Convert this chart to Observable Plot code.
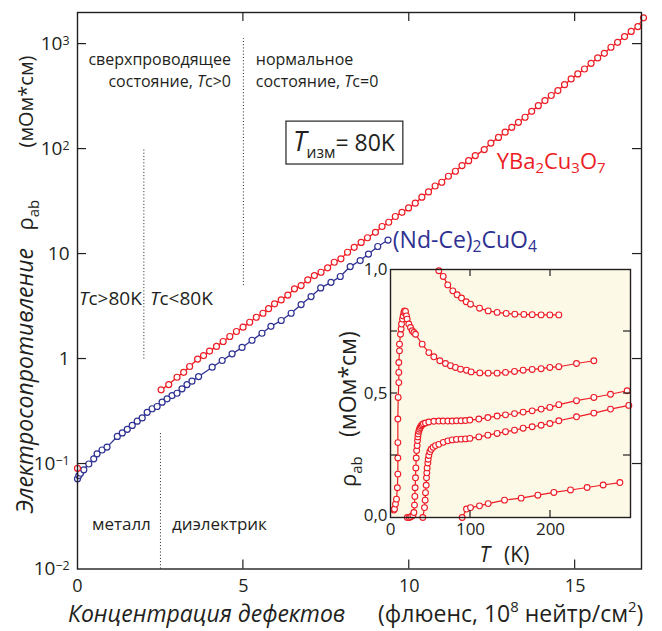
<!DOCTYPE html>
<html><head><meta charset="utf-8">
<script src="https://cdn.jsdelivr.net/npm/d3@7"></script>
<script src="https://cdn.jsdelivr.net/npm/@observablehq/plot@0.6"></script>
<style>
body{margin:0;background:#fff;}
#wrap{position:relative;width:662px;height:631px;font-family:"Open Sans",sans-serif;}
#wrap svg{position:absolute;overflow:visible;}
</style></head><body><div id="wrap"></div>
<script>
// ---------- main chart data: fluence (1e8 n/cm2) vs resistivity (mOhm*cm) ----------
const ybcoX = [2.52,2.75,3.00,3.20,3.38,3.62,3.80,3.98,4.19,4.39,4.59,4.79,4.99,5.19,5.39,5.59,5.76,5.94,6.14,6.34,6.54,6.74,6.94,7.14,7.34,7.54,7.74,7.94,8.14,8.34,8.55,8.74,8.98,9.18,9.38,9.58,9.78,9.98,10.18,10.38,10.58,10.78,10.98,11.18,11.39,11.59,11.79,11.99,12.26,12.46,12.69,12.89,13.09,13.29,13.49,13.69,13.89,14.09,14.28,14.48,14.68,14.88,15.08,15.28,15.48,15.68,15.88,16.08,16.28,16.49,16.69,16.89,17.06];
const ybcoY = [0.509,0.571,0.671,0.748,0.849,1.00,1.08,1.19,1.32,1.47,1.64,1.83,2.01,2.24,2.50,2.73,3.02,3.36,3.66,4.07,4.66,5.01,5.68,6.24,6.71,7.40,8.36,9.00,10.4,11.6,12.9,14.3,16.1,18.3,20.1,22.8,25.0,27.5,30.5,34.8,39.1,44.5,48.3,55.1,61.5,69.7,77.6,86.7,98.9,114,129,145,161,180,201,229,259,290,324,361,411,466,520,579,656,738,817,933,1040,1180,1320,1470,1780];
const ybcoStartX = [0];
const ybcoStartY = [0.091];
const nccoX = [0.00,0.04,0.09,0.19,0.34,0.49,0.59,0.74,0.89,1.20,1.35,1.50,1.65,1.80,1.95,2.10,2.25,2.40,2.55,2.70,2.85,3.00,3.15,3.30,3.45,3.65,4.06,4.36,4.66,4.96,5.26,5.56,5.83,6.14,6.44,6.74,7.04,7.33,7.64,7.92,8.22,8.52,8.77,9.05,9.36];
const nccoY = [0.0723,0.0776,0.0817,0.0881,0.100,0.112,0.125,0.136,0.145,0.183,0.198,0.214,0.233,0.256,0.275,0.311,0.336,0.353,0.388,0.418,0.449,0.472,0.520,0.571,0.615,0.681,0.836,0.968,1.12,1.29,1.51,1.76,2.05,2.33,2.73,3.30,3.94,4.76,5.38,6.11,7.60,8.67,10.0,11.8,13.6];
const xTicks = [5,10,15];
const xTickLabels = [0,5,10,15];
const yTicks = [0.01,0.1,1,10,100,1000];
const yTickLabels = ["10^-2","10^-1","1","10","10^2","10^3"];
// dotted boundaries (x, from y1 to y2)
const dividerX = [2, 5, 2.5];
const dividerY1 = [1, 5, 0.01];
const dividerY2 = [100, 1130, 0.2];

// ---------- inset data: T (K) vs rho_ab (mOhm*cm) ----------
const insetA = [[60.4,0.995],[65.9,0.972],[71.6,0.938],[77.9,0.914],[83.3,0.898],[88.75,0.885],[94.6,0.870],[100,0.860],[111.3,0.844],[122.1,0.833],[133.3,0.827],[144.6,0.823],[155.4,0.820],[166.7,0.819],[177.1,0.818],[188.3,0.817],[199.2,0.817],[210.4,0.817]];
const insetB = [[4.2,0.03],[5,0.034],[6.25,0.054],[7.5,0.074],[8.6,0.12],[9.2,0.175],[9.2,0.24],[9.2,0.302],[9.2,0.397],[9.6,0.484],[10.4,0.544],[10.4,0.585],[10.4,0.625],[11.25,0.672],[11.25,0.699],[12.5,0.739],[13.3,0.760],[13.75,0.78],[15,0.80],[15.8,0.813],[16.7,0.827],[17.5,0.833],[18.75,0.831],[20,0.813],[20.8,0.80],[22.9,0.78],[25,0.766],[27.1,0.753],[29.2,0.746],[31.25,0.739],[39.6,0.699],[47.9,0.665],[54.2,0.648],[61.7,0.632],[68.75,0.621],[75,0.612],[81.25,0.605],[87.5,0.598],[95,0.594],[100.8,0.587],[111.7,0.583],[122.1,0.582],[133.3,0.582],[143.75,0.585],[155,0.589],[165.8,0.594],[177.1,0.597],[188.3,0.600],[199.2,0.605],[210.4,0.608],[232.5,0.621],[254.2,0.632]];
const insetC = [[21,0.0],[23.5,0.0],[25.5,0.003],[28,0.008],[29.2,0.02],[30,0.05],[30.4,0.085],[30.8,0.12],[31.25,0.16],[31.7,0.2],[32.1,0.24],[32.7,0.27],[33.3,0.29],[33.8,0.31],[34.2,0.325],[34.6,0.337],[35.4,0.348],[36.2,0.356],[37.1,0.363],[38.3,0.369],[39.6,0.374],[41.2,0.378],[43.75,0.381],[47.9,0.385],[54.2,0.388],[60.4,0.389],[65.8,0.389],[71.7,0.389],[77.1,0.389],[82.5,0.390],[88.3,0.390],[93.75,0.391],[99.2,0.393],[110.4,0.397],[121.7,0.403],[133.3,0.409],[143.75,0.414],[155,0.419],[165.8,0.425],[177.1,0.430],[188.3,0.437],[199.2,0.444],[210.4,0.455],[232.5,0.471],[254.2,0.484],[275,0.497],[295.8,0.511]];
const insetD = [[40.4,0.0],[42.5,0.04],[43.3,0.07],[43.75,0.1],[44.6,0.13],[45,0.16],[45.4,0.18],[45.8,0.2],[46.7,0.22],[47.1,0.235],[47.9,0.25],[49.2,0.265],[50.8,0.275],[53.3,0.283],[56.25,0.29],[60.4,0.295],[66,0.303],[71.7,0.309],[77.1,0.313],[82.5,0.315],[88.3,0.316],[93.75,0.317],[99.2,0.319],[110.4,0.325],[121.7,0.332],[133.3,0.339],[143.75,0.346],[155,0.352],[165.8,0.360],[177.1,0.366],[188.3,0.372],[199.2,0.379],[210.4,0.39],[232.5,0.406],[254.2,0.421],[275,0.437],[297.9,0.452]];
const insetE = [[89.6,0.0],[95,0.034],[100,0.04],[111.25,0.047],[122.1,0.056],[142.5,0.07],[163.3,0.078],[184.2,0.09],[204.2,0.101],[225,0.111],[245.8,0.121],[265.8,0.131],[286.7,0.141]];
const insetXTicks = [0,100,200];
const insetYTicks = [0,0.5,1];

// ---------- styles ----------
const INK = "#231f20", RED = "#ed1c24", BLUE = "#2e3192", CREAM = "#fdf9e7";
const FONT = "'Open Sans', sans-serif";

const ybco = ybcoX.map((x,i)=>({x, y: ybcoY[i]}));
const ybco0 = ybcoStartX.map((x,i)=>({x, y: ybcoStartY[i]}));
const ncco = nccoX.map((x,i)=>({x, y: nccoY[i]}));
const dividers = dividerX.map((x,i)=>({x, y1: dividerY1[i], y2: dividerY2[i]}));

const wrap = document.getElementById("wrap");

const main = Plot.plot({
  width: 662, height: 631,
  marginLeft: 77, marginRight: 21, marginTop: 12, marginBottom: 62.5,
  x: {domain: [0, 17]},
  y: {type: "log", domain: [0.01, 2000]},
  style: {fontFamily: FONT, fontSize: "19px", background: "transparent", color: INK, overflow: "visible"},
  marks: [
    Plot.ruleX(dividers, {x: "x", y1: "y1", y2: "y2", stroke: INK, strokeWidth: 1, strokeDasharray: "1,2.2"}),
    Plot.line(ncco, {x: "x", y: "y", stroke: BLUE, strokeWidth: 1.3}),
    Plot.dot(ncco, {x: "x", y: "y", r: 3, stroke: BLUE, fill: "white", strokeWidth: 1.2}),
    Plot.line(ybco, {x: "x", y: "y", stroke: RED, strokeWidth: 1.3}),
    Plot.dot(ybco, {x: "x", y: "y", r: 3, stroke: RED, fill: "white", strokeWidth: 1.2}),
    Plot.dot(ybco0, {x: "x", y: "y", r: 3, stroke: RED, fill: "white", strokeWidth: 1.2}),
    Plot.frame({stroke: INK, strokeWidth: 1.4}),
    Plot.axisX({ticks: xTickLabels, tickSize: 0, tickPadding: 10, label: null, fontSize: 18}),
    Plot.axisY({ticks: yTicks, tickSize: 0, tickPadding: 8, label: null,
      tickFormat: d => yTickLabels[yTicks.indexOf(d)]})
  ]
});
wrap.appendChild(main);
main.style.left = "0px"; main.style.top = "0px";

const inset = Plot.plot({
  width: 332, height: 315,
  marginLeft: 60, marginRight: 32, marginTop: 14, marginBottom: 53,
  x: {domain: [0, 300]},
  y: {domain: [0, 1]},
  style: {fontFamily: FONT, fontSize: "17px", background: "transparent", color: INK, overflow: "visible"},
  marks: [
    Plot.frame({fill: CREAM}),
    ...[insetA, insetB, insetC, insetD, insetE].flatMap(c => [
      Plot.line(c, {x: d => d[0], y: d => d[1], stroke: RED, strokeWidth: 1.2}),
      Plot.dot(c, {x: d => d[0], y: d => d[1], r: 2.9, stroke: RED, fill: "white", strokeWidth: 1.1})
    ]),
    Plot.frame({stroke: INK, strokeWidth: 1.4}),
    Plot.axisX({ticks: insetXTicks, tickSize: 0, tickPadding: 5, label: null}),
    Plot.axisY({ticks: insetYTicks, tickSize: 0, tickPadding: 3, label: null,
      tickFormat: d => d.toFixed(1).replace(".", ",")})
  ]
});
wrap.appendChild(inset);
inset.style.left = "330px"; inset.style.top = "255px";

// ---------- helpers ----------
function rich(g, x, y, parts, {size = 17, anchor = "start", fill = INK, rotate = 0, subShift = 0.2} = {}) {
  const t = g.append("text").attr("x", x).attr("y", y).attr("font-size", size)
    .attr("fill", fill).attr("text-anchor", anchor).attr("font-family", FONT);
  if (rotate) t.attr("transform", `rotate(${rotate},${x},${y})`);
  let shift = 0;
  for (const p of parts) {
    const ts = t.append("tspan").text(p.t);
    let target = 0, fs = p.size || size;
    if (p.sub) { target = size * subShift; fs = size * 0.68; }
    if (p.sup) { target = -size * 0.42; fs = size * 0.65; }
    ts.attr("font-size", fs);
    const dy = target - shift;
    if (dy) ts.attr("dy", dy);
    shift = target;
    if (p.dx) ts.attr("dx", p.dx);
    if (p.i) ts.attr("font-style", "italic");
  }
  return t;
}
function supTicks(svg, sel) {
  d3.select(svg).selectAll(sel).each(function () {
    const el = d3.select(this), s = el.text();
    if (!s.includes("^")) return;
    const [b, e] = s.split("^");
    el.text("");
    el.append("tspan").text(b);
    el.append("tspan").text(e.replace("-", "\u2212")).attr("font-size", "0.65em").attr("dy", "-0.45em");
  });
}
function inwardTicks(svg, plot, xt, yt, len) {
  const sx = plot.scale("x"), sy = plot.scale("y");
  const [x0, x1] = sx.range, [y0, y1] = sy.range;
  const g = d3.select(svg).append("g").attr("stroke", INK).attr("stroke-width", 1.2);
  for (const v of xt) {
    const p = sx.apply(v);
    g.append("line").attr("x1", p).attr("x2", p).attr("y1", y0).attr("y2", y0 - len);
    g.append("line").attr("x1", p).attr("x2", p).attr("y1", y1).attr("y2", y1 + len);
  }
  for (const v of yt) {
    const p = sy.apply(v);
    g.append("line").attr("y1", p).attr("y2", p).attr("x1", x0).attr("x2", x0 + len);
    g.append("line").attr("y1", p).attr("y2", p).attr("x1", x1).attr("x2", x1 - len);
  }
}

supTicks(main, 'g[aria-label="y-axis tick label"] text');
inwardTicks(main, main, xTicks, [0.1, 1, 10, 100, 1000], 9);
inwardTicks(inset, inset, [100, 200], [0.25, 0.5, 0.75], 7);
// the inset's "0,0" sits a little above the corner, as in the original
d3.select(inset).selectAll('g[aria-label="y-axis tick label"] text')
  .filter(function () { return d3.select(this).text() === "0,0"; })
  .attr("dy", "-0.1em");

// ---------- annotations (anchored in data coordinates) ----------
const sx = main.scale("x"), sy = main.scale("y");
const X = v => sx.apply(v), Y = v => sy.apply(v);
const g = d3.select(main).append("g");
rich(g, X(4.64), Y(624), [{t: "сверхпроводящее"}], {size: 16, anchor: "end"});
rich(g, X(4.64), Y(385), [{t: "состояние, "}, {t: "T", i: true}, {t: "c>0"}], {size: 16, anchor: "end"});
rich(g, X(5.39), Y(624), [{t: "нормальное"}], {size: 16});
rich(g, X(5.39), Y(385), [{t: "состояние, "}, {t: "T", i: true}, {t: "c=0"}], {size: 16});
rich(g, X(0.06), Y(3.23), [{t: "T", i: true}, {t: "c>80K"}], {size: 19});
rich(g, X(2.2), Y(3.23), [{t: "T", i: true}, {t: "c<80K"}], {size: 19});
rich(g, X(0.45), Y(0.0233), [{t: "металл"}], {size: 17});
rich(g, X(2.86), Y(0.0233), [{t: "диэлектрик"}], {size: 17});
rich(g, X(12.65), Y(63.8), [{t: "YBa"}, {t: "2", sub: true}, {t: "Cu"}, {t: "3", sub: true}, {t: "O"}, {t: "7", sub: true}], {size: 22, fill: RED, subShift: 0.16});
rich(g, X(9.52), Y(11.3), [{t: "(Nd-Ce)"}, {t: "2", sub: true}, {t: "CuO"}, {t: "4", sub: true}], {size: 23, fill: BLUE, subShift: 0.16});
const boxT = rich(g, X(6.51), Y(94.6), [{t: "T", i: true, size: 27}, {t: "изм", sub: true}, {t: "= 80K"}], {size: 23, subShift: 0.3});
const bb = boxT.node().getBBox();
g.insert("rect", "text").attr("x", bb.x - 7).attr("y", bb.y - 1).attr("width", bb.width + 14).attr("height", bb.height + 2)
  .attr("fill", "white").attr("stroke", INK).attr("stroke-width", 1.2);

// axis titles
const [fx0] = sx.range, [fy0] = sy.range;
rich(g, fx0 - 9, fy0 + 53, [{t: "Концентрация дефектов", i: true}], {size: 23});
rich(g, fx0 + 301, fy0 + 53, [{t: "(флюенс, 10"}, {t: "8", sup: true}, {t: " нейтр/см"}, {t: "2", sup: true}, {t: ")"}], {size: 23});
rich(g, fx0 - 44, fy0 - 55, [{t: "Электросопротивление", i: true}], {size: 23, rotate: -90});
rich(g, fx0 - 44, fy0 - 338, [{t: "ρ"}, {t: "ab", sub: true}], {size: 22, rotate: -90, subShift: 0.25});
rich(g, fx0 - 44, fy0 - 421, [{t: "(мОм*см)"}], {size: 20, rotate: -90});

// inset titles
const ix = inset.scale("x"), iy = inset.scale("y");
const gi = d3.select(inset).append("g");
rich(gi, ix.range[0] - 34, iy.range[0] - 30, [{t: "ρ"}, {t: "ab", sub: true}], {size: 22, rotate: -90, subShift: 0.25});
rich(gi, ix.range[0] - 34, iy.range[0] - 80, [{t: "(мОм*см)"}], {size: 23, rotate: -90});
rich(gi, ix.apply(112), iy.range[0] + 45, [{t: "T", i: true}, {t: "(K)", dx: 14}], {size: 21});
</script>
</body></html>
